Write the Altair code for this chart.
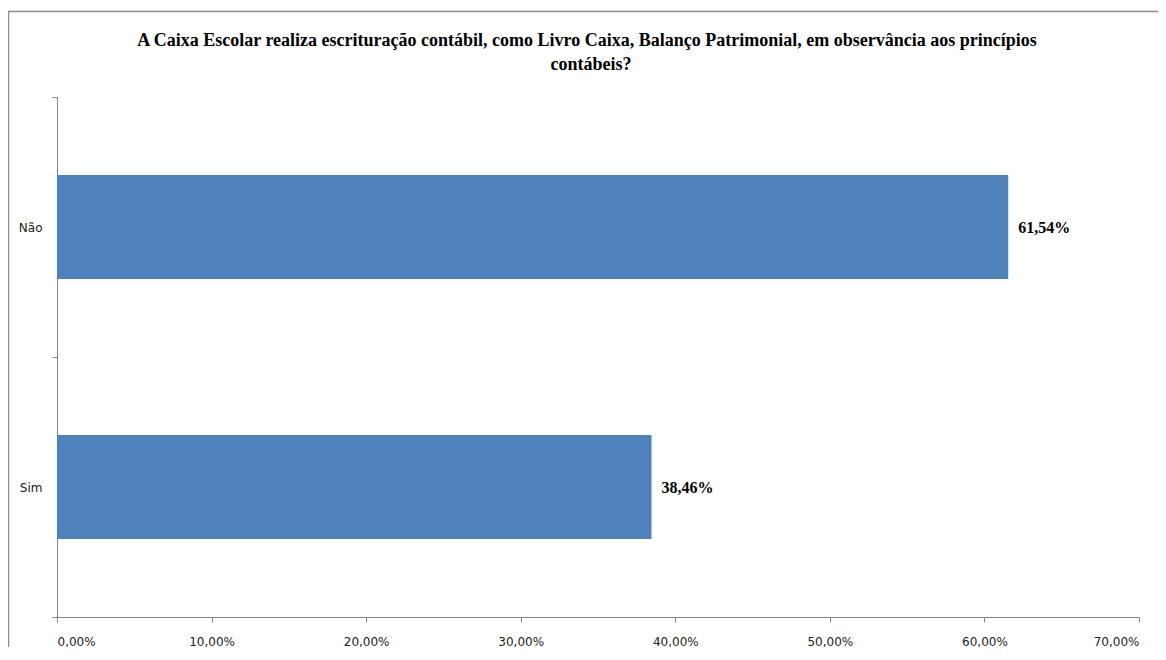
import altair as alt
import pandas as pd

categories = ["Não", "Sim"]
values = [0.6154, 0.3846]
title_lines = [
    "A Caixa Escolar realiza escrituração contábil, como Livro Caixa, Balanço Patrimonial, em observância aos princípios",
    "contábeis?",
]

df = pd.DataFrame({"cat": categories, "val": values})

W, H = 1082, 520
AX = "#868686"

base = alt.Chart(df).transform_calculate(
    lab="replace(format(datum.val, '.2%'), '.', ',')"
)

bars = base.mark_bar(color="#4F81BD", height=alt.RelativeBandSize(0.4)).encode(
    x=alt.X(
        "val:Q",
        scale=alt.Scale(domain=[0, 0.7], nice=False),
        axis=alt.Axis(
            values=[0, 0.1, 0.2, 0.3, 0.4, 0.5, 0.6, 0.7],
            labelExpr="replace(format(datum.value, '.2%'), '.', ',')",
            title=None,
            grid=False,
            domainColor=AX,
            tickColor=AX,
            tickSize=5,
            labelFont="DejaVu Sans",
            labelFontSize=12,
            labelColor="#222222",
            labelPadding=14,
        ),
    ),
    y=alt.Y(
        "cat:N",
        sort=categories,
        scale=alt.Scale(paddingInner=0, paddingOuter=0),
        axis=alt.Axis(
            title=None,
            tickBand="extent",
            domainColor=AX,
            tickColor=AX,
            tickSize=5,
            labelFont="DejaVu Sans",
            labelFontSize=12,
            labelColor="#222222",
            labelPadding=10,
        ),
    ),
)

labels = base.mark_text(
    align="left", baseline="middle", dx=10, dy=1,
    font="Liberation Serif", fontSize=16, fontWeight="bold", color="#000000",
).encode(
    x="val:Q",
    y=alt.Y("cat:N", sort=categories),
    text="lab:N",
)

frame = alt.Chart(pd.DataFrame({"a": [0]})).mark_rect(
    fill=None, stroke="#8c8c8c", strokeWidth=1.5, clip=False
).encode(
    x=alt.value(-48.5), x2=alt.value(W + 200),
    y=alt.value(-85.5), y2=alt.value(H + 200),
)

title1 = alt.Chart(pd.DataFrame({"t": [title_lines[0]]})).mark_text(
    align="center", baseline="alphabetic",
    font="Liberation Serif", fontSize=18, fontWeight="bold", color="#000000",
).encode(x=alt.value(530), y=alt.value(-51), text="t:N")
title2 = alt.Chart(pd.DataFrame({"t": [title_lines[1]]})).mark_text(
    align="center", baseline="alphabetic",
    font="Liberation Serif", fontSize=18, fontWeight="bold", color="#000000",
).encode(x=alt.value(534), y=alt.value(-27), text="t:N")

chart = alt.layer(frame, bars, labels, title1, title2).properties(
    width=W,
    height=H,
    autosize=alt.AutoSizeParams(type="none"),
    padding={"left": 49, "top": 89, "right": 19, "bottom": 30},
    background="white",
).configure_view(stroke=None)

chart.save("out.html", embed_options={"renderer": "svg", "actions": False})
